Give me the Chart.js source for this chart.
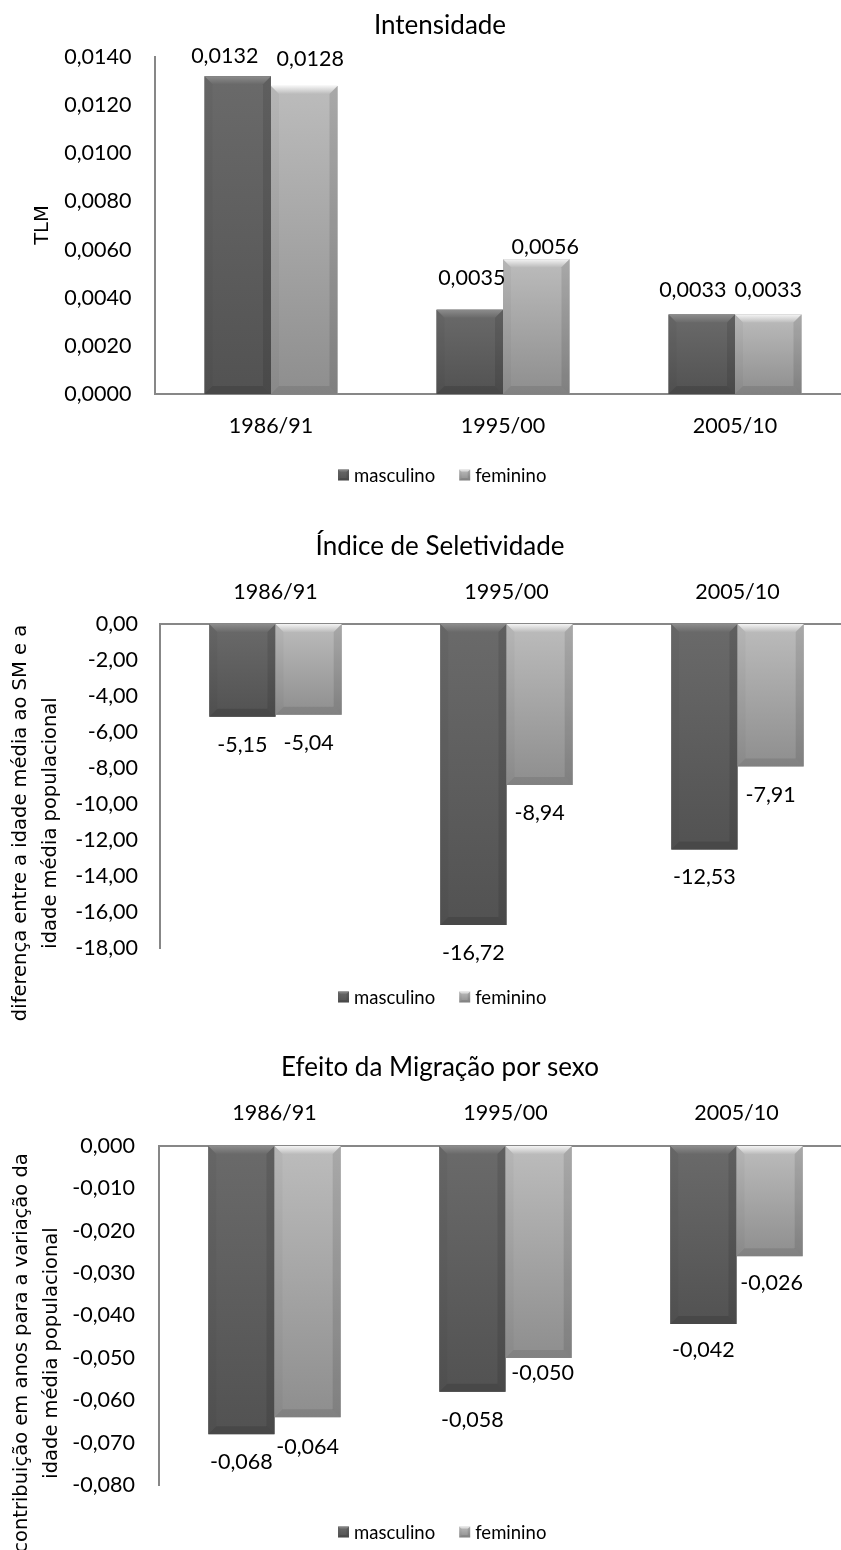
<!DOCTYPE html>
<html>
<head>
<meta charset="utf-8">
<script src="https://cdn.jsdelivr.net/npm/chart.js@4.4.0/dist/chart.umd.min.js"></script>
<style>
  html, body { margin: 0; padding: 0; background: #fff; }
  #wrap { width: 841px; height: 1550px; overflow: hidden; }
  canvas { display: block; }
</style>
</head>
<body>
<div id="wrap">
  <canvas id="intensidade" width="854" height="510"></canvas>
  <canvas id="seletividade" width="854" height="520"></canvas>
  <canvas id="efeito" width="854" height="520"></canvas>
</div>
<script>
// categories and series
const periodos = ["1986/91", "1995/00", "2005/10"];
const sexos = ["masculino", "feminino"];

// Intensidade (TLM)
const tlmMasculino = [0.0132, 0.0035, 0.0033];
const tlmFeminino = [0.0128, 0.0056, 0.0033];
const tlmTicks = [0, 0.002, 0.004, 0.006, 0.008, 0.010, 0.012, 0.014];

// Índice de Seletividade
const selMasculino = [-5.15, -16.72, -12.53];
const selFeminino = [-5.04, -8.94, -7.91];
const selTicks = [0, -2, -4, -6, -8, -10, -12, -14, -16, -18];

// Efeito da Migração por sexo
const efeMasculino = [-0.068, -0.058, -0.042];
const efeFeminino = [-0.064, -0.050, -0.026];
const efeTicks = [0, -0.01, -0.02, -0.03, -0.04, -0.05, -0.06, -0.07, -0.08];

const SANS = 'Lato, "Open Sans", sans-serif';
const WIDE = '"DejaVu Sans", Verdana, sans-serif';

const shades = [
  { flat: '#5c5c5c', top: '#6a6a6a', bottom: '#525252', light: '#8c8c8c', dark: 'rgba(0,0,0,0.12)' },
  { flat: '#a6a6a6', top: '#bcbcbc', bottom: '#8e8e8e', light: '#f4f4f4', dark: 'rgba(0,0,0,0.09)' }
];

function fmt(v, d) {
  if (Math.abs(v) < 1e-12) v = 0;
  return v.toFixed(d).replace('.', ',');
}

function poly(ctx, pts, fill) {
  ctx.beginPath();
  ctx.moveTo(pts[0][0], pts[0][1]);
  for (let i = 1; i < pts.length; i++) ctx.lineTo(pts[i][0], pts[i][1]);
  ctx.closePath();
  ctx.fillStyle = fill;
  ctx.fill();
}

// gradient body plus a chamfered edge, painted over a bar element
function paintBar(ctx, p, sh, bevel) {
  const L = p.x - p.width / 2, R = p.x + p.width / 2;
  const T = Math.min(p.y, p.base), B = Math.max(p.y, p.base);
  const h = B - T;
  if (h <= 0) return;
  const b = Math.min(bevel, h / 2, p.width / 2);
  let g = ctx.createLinearGradient(0, T, 0, B);
  g.addColorStop(0, sh.top);
  g.addColorStop(1, sh.bottom);
  ctx.fillStyle = g;
  ctx.fillRect(L, T, R - L, h);

  g = ctx.createLinearGradient(0, T, 0, T + b);
  g.addColorStop(0, sh.light);
  g.addColorStop(1, sh.top);
  poly(ctx, [[L, T], [R, T], [R - b, T + b], [L + b, T + b]], g);
  poly(ctx, [[L, B], [R, B], [R - b, B - b], [L + b, B - b]], sh.dark);
  poly(ctx, [[L, T], [L + b, T + b], [L + b, B - b], [L, B]], 'rgba(0,0,0,0.03)');
  poly(ctx, [[R, T], [R - b, T + b], [R - b, B - b], [R, B]], 'rgba(0,0,0,0.10)');
}

function excelLook(cfg) {
  return {
    id: 'excelLook',
    afterDatasetsDraw(chart) {
      const ctx = chart.ctx;
      ctx.save();
      chart.data.datasets.forEach((ds, di) => {
        chart.getDatasetMeta(di).data.forEach(bar => {
          paintBar(ctx, bar.getProps(['x', 'y', 'base', 'width'], true), shades[di], 8);
        });
      });
      // value labels
      ctx.font = '21.5px ' + SANS;
      ctx.fillStyle = '#000';
      ctx.textAlign = 'center';
      ctx.textBaseline = 'middle';
      chart.data.datasets.forEach((ds, di) => {
        chart.getDatasetMeta(di).data.forEach((bar, i) => {
          const p = bar.getProps(['x', 'y', 'base'], true);
          const v = ds.data[i];
          const off = cfg.labelOffset[di][i];
          const y = v >= 0 ? Math.min(p.y, p.base) - off : Math.max(p.y, p.base) + off;
          ctx.fillText(fmt(v, cfg.decimals), p.x + cfg.labelShift[di][i], y);
        });
      });
      ctx.restore();
    },
    afterDraw(chart) {
      const ctx = chart.ctx;
      ctx.save();
      ctx.fillStyle = '#000';
      ctx.textBaseline = 'middle';

      // chart title
      ctx.textAlign = 'center';
      ctx.font = '26px ' + SANS;
      ctx.fillText(cfg.title, 440, cfg.titleY);

      // rotated axis title
      ctx.font = '19.5px ' + WIDE;
      cfg.axisTitle.forEach((line, k) => {
        ctx.save();
        ctx.translate(cfg.axisTitleX[k], cfg.axisTitleY);
        ctx.rotate(-Math.PI / 2);
        ctx.fillText(line, 0, 0);
        ctx.restore();
      });

      // legend
      ctx.font = '18.5px ' + SANS;
      ctx.textAlign = 'left';
      let x = 338;
      const ly = cfg.legendY;
      sexos.forEach((name, si) => {
        paintBar(ctx, { x: x + 5.5, y: ly - 5.5, base: ly + 5.5, width: 11 }, shades[si], 2.5);
        ctx.fillStyle = '#000';
        ctx.fillText(name, x + 16, ly + 1);
        x += 16 + ctx.measureText(name).width + 24;
      });
      ctx.restore();
    }
  };
}

function buildChart(id, cfg) {
  new Chart(document.getElementById(id), {
    type: 'bar',
    data: {
      labels: periodos,
      datasets: [
        { label: sexos[0], data: cfg.masculino, backgroundColor: shades[0].flat, borderWidth: 0 },
        { label: sexos[1], data: cfg.feminino, backgroundColor: shades[1].flat, borderWidth: 0 }
      ]
    },
    options: {
      responsive: false,
      animation: false,
      events: [],
      layout: { padding: cfg.padding },
      datasets: { bar: { categoryPercentage: 0.573, barPercentage: 1 } },
      plugins: { legend: { display: false }, tooltip: { enabled: false }, title: { display: false } },
      scales: {
        x: {
          position: cfg.xPosition,
          grid: { display: false, drawTicks: false },
          border: { display: true, color: '#878787', width: 2 },
          ticks: { color: '#000', font: { family: SANS, size: 21.5 }, padding: cfg.xPad, maxRotation: 0 },
          afterFit: s => { s.height = cfg.xHeight; }
        },
        y: {
          min: Math.min(...cfg.ticks),
          max: Math.max(...cfg.ticks),
          grid: { display: false, drawTicks: false },
          border: { display: true, color: '#878787', width: 2 },
          ticks: {
            color: '#000',
            font: { family: SANS, size: 21.5 },
            padding: cfg.yPad,
            callback: v => fmt(v, cfg.decimals)
          },
          afterBuildTicks: s => { s.ticks = cfg.ticks.map(v => ({ value: v })); },
          afterFit: s => { s.width = cfg.yWidth; }
        }
      }
    },
    plugins: [excelLook(cfg)]
  });
}

buildChart('intensidade', {
  masculino: tlmMasculino, feminino: tlmFeminino, ticks: tlmTicks, decimals: 4,
  title: 'Intensidade', titleY: 26,
  axisTitle: ['TLM'], axisTitleX: [42.5], axisTitleY: 225,
  legendY: 475,
  xPosition: 'bottom', xHeight: 116, xPad: 19, yWidth: 155, yPad: 23.5,
  padding: { top: 57, bottom: 0, left: 0, right: 3 },
  labelOffset: [[20, 32, 25], [27, 12, 25]],
  labelShift: [[-13, 2, -9], [6, 9, 0]]
});

buildChart('seletividade', {
  masculino: selMasculino, feminino: selFeminino, ticks: selTicks, decimals: 2,
  title: 'Índice de Seletividade', titleY: 37,
  axisTitle: ['diferença entre a idade média ao SM e a', 'idade média populacional'],
  axisTitleX: [21, 51], axisTitleY: 313,
  legendY: 487,
  xPosition: 'top', xHeight: 114, xPad: 19, yWidth: 160, yPad: 22,
  padding: { top: 0, bottom: 82, left: 0, right: 1 },
  labelOffset: [[28, 28, 28], [28, 28, 29]],
  labelShift: [[0, 0, 0], [0, 0, 0]]
});

buildChart('efeito', {
  masculino: efeMasculino, feminino: efeFeminino, ticks: efeTicks, decimals: 3,
  title: 'Efeito da Migração por sexo', titleY: 38,
  axisTitle: ['contribuição em anos para a variação da', 'idade média populacional'],
  axisTitleX: [22, 52], axisTitleY: 323,
  legendY: 502,
  xPosition: 'top', xHeight: 116, xPad: 20, yWidth: 159, yPad: 24,
  padding: { top: 0, bottom: 65, left: 0, right: 2 },
  labelOffset: [[28, 28, 26], [30, 15, 27]],
  labelShift: [[0, 0, 0], [0, 4, 2]]
});
</script>
</body>
</html>
